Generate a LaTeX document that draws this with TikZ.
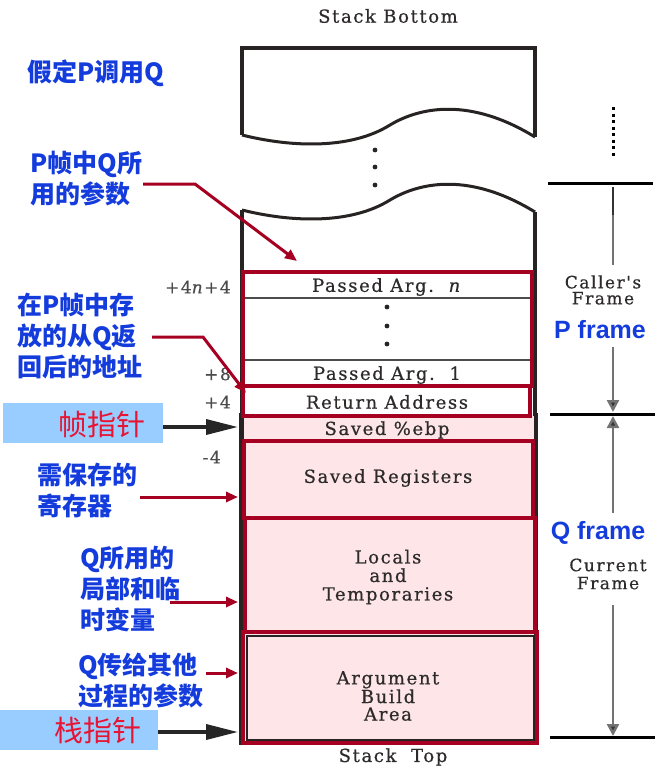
\documentclass[tikz,border=0pt]{standalone}
\usepackage{fontspec}
\setmainfont{DejaVu Serif}
\newfontfamily\enf{DejaVu Serif}[LetterSpace=9,FakeBold=0.6]
\newfontfamily\cjk{Noto Sans CJK SC}
\newfontfamily\arialb{Liberation Sans}
\usetikzlibrary{arrows.meta}
\definecolor{lblue}{RGB}{20,60,220}
\definecolor{dred}{RGB}{165,0,33}
\definecolor{pinkfill}{RGB}{253,229,232}
\definecolor{boxblue}{RGB}{153,204,255}
\definecolor{ptrred}{RGB}{232,20,50}
\definecolor{ink}{RGB}{45,42,42}
\definecolor{wallc}{RGB}{40,35,35}
\tikzset{
  cn/.style={font=\cjk\bfseries\fontsize{25}{31}\selectfont, text=lblue, align=left, inner sep=0pt, anchor=north west},
  en/.style={font=\enf\fontsize{18}{19}\selectfont, text=ink, inner sep=0pt},
  ensm/.style={font=\enf\fontsize{17}{17}\selectfont, text=ink, inner sep=0pt},
  offs/.style={font=\enf\fontsize{17}{17}\selectfont, text=ink!85, inner sep=0pt, anchor=east},
  frm/.style={font=\arialb\bfseries\fontsize{25}{28}\selectfont, text=lblue, inner sep=0pt},
  ptrbox/.style={fill=boxblue, minimum width=160pt, minimum height=40pt, inner sep=0pt},
  ptrtext/.style={font=\cjk\fontsize{29}{30}\selectfont, text=ptrred, inner sep=0pt},
  redarr/.style={dred, line width=3pt, -{Triangle[length=12pt,width=10pt]}},
  blkarr/.style={black!85, line width=3.5pt, -{Triangle[length=32pt,width=15pt]}},
  redbox/.style={dred, line width=3.5pt},
  wall/.style={wallc, line width=4pt},
  sep/.style={black!70, line width=1.2pt},
  dim/.style={black!55, line width=2.5pt},
  dimarr/.style={black!55, line width=2.5pt, -{Triangle[length=12pt,width=12pt,fill=black!80]}},
  hbar/.style={black, line width=3pt},
}
\begin{document}
\begin{tikzpicture}[x=1pt,y=-1pt]
\useasboundingbox (0,0) rectangle (672,769);
% ---- stack drawing ----
\fill[pinkfill] (243,414) rectangle (537,745);
\draw[wall] (242,135) -- (242,48) -- (535,48) -- (535,137);
\draw[wallc, line width=3pt] (242,135) .. controls (290,147) and (350,150) .. (390,125) .. controls (420,107) and (470,97) .. (535,137);
\draw[wallc, line width=3pt] (242,210) .. controls (290,222) and (350,225) .. (390,200) .. controls (420,182) and (470,172) .. (535,212);
\draw[wall] (242,210) -- (242,416);
\draw[wall] (535,212) -- (535,416);
\draw[wallc, line width=5pt] (241,413) -- (241,745);
\draw[wallc, line width=4.5pt] (536,413) -- (536,745);
\foreach \yy in {150,167,185} \fill[black!85] (375,\yy) circle (2.4pt);
\foreach \yy in {307,326,344} \fill[black!85] (387,\yy) circle (2.4pt);
\draw[sep] (243,298) -- (532,298);
\draw[sep] (243,360) -- (532,360);
\draw[wallc, line width=1.5pt] (247,636) rectangle (534,740);
% red boxes
\draw[redbox] (243,272) rectangle (532,386);
\draw[redbox] (243,386) rectangle (530,416);
\draw[redbox] (244,441) rectangle (533,518);
\draw[redbox] (245,518) rectangle (535,632);
\draw[redbox] (243,632) rectangle (537,743);
% stack texts
\node[en] (sb) at (388,16) {Stack Bottom};
\node[en] (pan) at (387,287) {Passed Arg.\ \ \textit{n}};
\node[en] (pa1) at (387,375) {Passed Arg.\ \ 1};
\node[en] (ra) at (387,402) {Return Address};
\node[en] (ebp) at (387,430) {Saved \%ebp};
\node[en] (sr) at (388,478) {Saved Registers};
\node[en, align=center, font=\enf\fontsize{18}{18.5}\selectfont] (lt) at (388,577) {Locals\\and\\Temporaries};
\node[en, align=center, font=\enf\fontsize{18}{17.5}\selectfont] (ab) at (388,696) {Argument\\Build\\Area};
\node[en] (st) at (393,757) {Stack\ \ Top};
% offsets
\node[offs] (o1) at (231,287) {+4\textit{n}+4};
\node[offs] (o2) at (231,374) {+8};
\node[offs] (o3) at (231,402) {+4};
\node[offs] (o4) at (221,457) {-4};
% ---- left labels ----
\node[cn] (l0) at (27,60) {假定P调用Q};
\node[cn] (l1) at (30,151) {P帧中Q所\\用的参数};
\node[cn] (l2) at (17,293) {在P帧中存\\放的从Q返\\回后的地址};
\node[cn] (l3) at (37,463) {需保存的\\寄存器};
\node[cn] (l4) at (80,546) {Q所用的\\局部和临\\时变量};
\node[cn] (l5) at (78,653) {Q传给其他\\过程的参数};
\node[ptrbox] (fpbox) at (83,423) {};
\node[ptrtext] (fp) at (102,425) {帧指针};
\node[ptrbox, minimum width=158pt] (spbox) at (79,730) {};
\node[ptrtext] (sp) at (98,730) {栈指针};
% connector end points
\coordinate (c1a) at (143,184); \coordinate (c1b) at (195,184); \coordinate (c1t) at (297,261);
\coordinate (c2a) at (152,337); \coordinate (c2b) at (203,337); \coordinate (c2t) at (246,393);
\coordinate (c3a) at (140,497); \coordinate (c3t) at (238,497);
\coordinate (c4a) at (170,602); \coordinate (c4t) at (238,602);
\coordinate (c5a) at (206,673); \coordinate (c5t) at (238,673);
\coordinate (fpt) at (238,427);
\coordinate (spt) at (238,732);
\draw[redarr] (c1a) -- (c1b) -- (c1t);
\draw[redarr] (c2a) -- (c2b) -- (c2t);
\draw[redarr] (c3a) -- (c3t);
\draw[redarr] (c4a) -- (c4t);
\draw[redarr] (c5a) -- (c5t);
\draw[blkarr] (fpbox.east |- fpt) -- (fpt);
\draw[blkarr] (spbox.east |- spt) -- (spt);
% ---- right side ----
\draw[black, line width=3pt, dash pattern=on 3pt off 3.5pt] (613,107) -- (613,156);
\coordinate (h1l) at (548,183); \coordinate (h1r) at (653,183);
\coordinate (h2l) at (550,414); \coordinate (h2r) at (655,414);
\coordinate (h3l) at (550,737); \coordinate (h3r) at (655,737);
\draw[hbar] (h1l) -- (h1r);
\draw[hbar] (h2l) -- (h2r);
\draw[hbar] (h3l) -- (h3r);
\node[ensm, align=center, font=\enf\fontsize{17}{16}\selectfont] (cf) at (603,290) {Caller's\\Frame};
\node[frm] (pf) at (600,330) {P frame};
\node[frm] (qf) at (598,533) {Q frame};
\node[ensm, align=center, font=\enf\fontsize{17}{18}\selectfont] (cur) at (608,574) {Current\\Frame};
\coordinate (v1) at (613,187); \coordinate (v2) at (613,265);
\coordinate (v3) at (613,347); \coordinate (v4) at (613,412);
\coordinate (v5) at (613,513); \coordinate (v6) at (613,416);
\coordinate (v7) at (613,605); \coordinate (v8) at (613,736);
\draw[dim] (v1) -- (v2);
\draw[black!80, line width=2.5pt] (v1) -- (613,215);
\draw[dimarr] (v3) -- (v4);
\draw[dimarr] (v5) -- (v6);
\draw[dimarr] (v7) -- (v8);
\end{tikzpicture}
\end{document}
